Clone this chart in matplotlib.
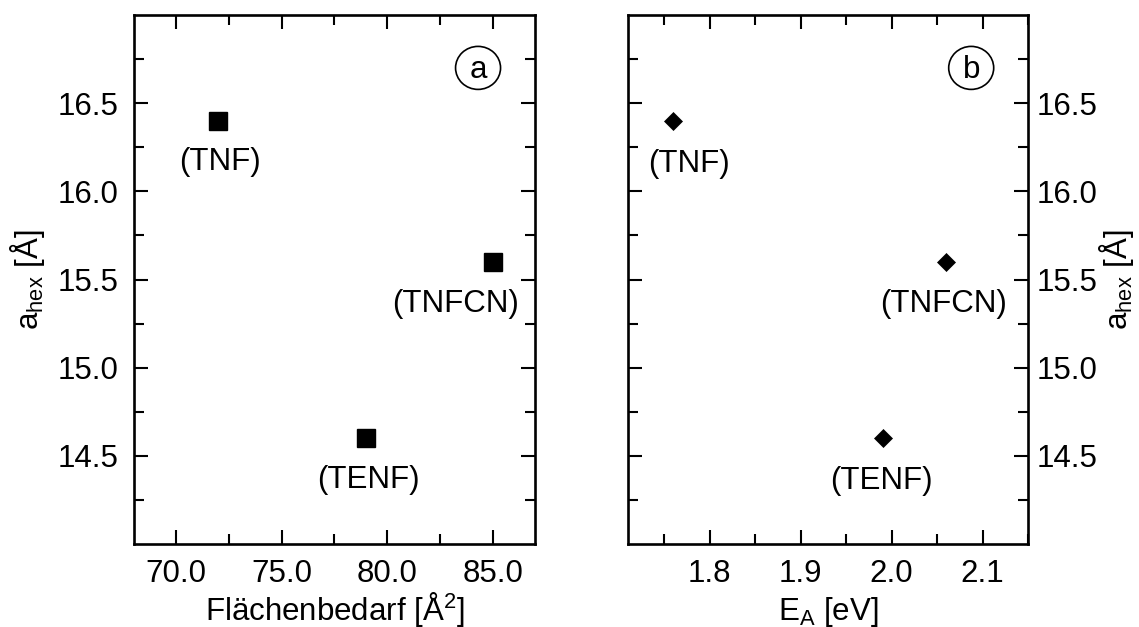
import matplotlib
matplotlib.use("Agg")
import matplotlib.pyplot as plt
from matplotlib.patches import Ellipse
from matplotlib.ticker import MultipleLocator, FormatStrFormatter

plt.rcParams['font.family'] = ['Liberation Sans', 'DejaVu Sans']
plt.rcParams['mathtext.fontset'] = 'custom'
plt.rcParams['mathtext.rm'] = 'Liberation Sans'
plt.rcParams['mathtext.it'] = 'Liberation Sans:italic'
plt.rcParams['mathtext.bf'] = 'Liberation Sans:bold'

# Acceptor compounds and their lattice constants
compounds = ["(TNF)", "(TENF)", "(TNFCN)"]
a_hex = [16.4, 14.6, 15.6]             # hexagonal lattice constant [Å]
area = [72.0, 79.0, 85.0]              # Flächenbedarf [Å²]
electron_affinity = [1.76, 1.99, 2.06]  # E_A [eV]

# label offsets (points) relative to each marker
offsets_a = [(1, -30), (2, -30), (-27, -30)]
offsets_b = [(11, -31), (-1, -31), (-2, -30)]

FS = 22.5
W, H = 1139, 627
fig = plt.figure(figsize=(W / 100, H / 100), dpi=100)

bottom = (H - 544) / H
height = (544 - 15) / H
ax1 = fig.add_axes([134 / W, bottom, (535 - 134) / W, height])
ax2 = fig.add_axes([628 / W, bottom, (1028 - 628) / W, height])


def style(ax, side):
    for sp in ax.spines.values():
        sp.set_linewidth(1.9)
    ax.tick_params(which='both', direction='in', top=True, bottom=True,
                   left=True, right=True, width=1.5, labelsize=FS)
    ax.tick_params(which='major', length=10)
    ax.tick_params(which='minor', length=7)
    ax.set_ylim(14.0, 17.0)
    ax.yaxis.set_major_formatter(FormatStrFormatter('%.1f'))
    ax.set_yticks([14.5, 15.0, 15.5, 16.0, 16.5])
    ax.set_yticks([14.25, 14.75, 15.25, 15.75, 16.25, 16.75], minor=True)
    if side == 'left':
        ax.tick_params(axis='y', labelleft=True, labelright=False, pad=11)
    else:
        ax.tick_params(axis='y', labelleft=False, labelright=True, pad=6)
    ax.tick_params(axis='x', pad=11)


style(ax1, 'left')
style(ax2, 'right')

# panel (a): lattice constant vs. area
ax1.plot(area, a_hex, linestyle='none', marker='s', markersize=13,
         color='black', markeredgewidth=1)
ax1.set_xlim(68, 87)
ax1.xaxis.set_major_locator(MultipleLocator(5))
ax1.xaxis.set_minor_locator(MultipleLocator(2.5))
ax1.xaxis.set_major_formatter(FormatStrFormatter('%.1f'))
for name, x, y, off in zip(compounds, area, a_hex, offsets_a):
    ax1.annotate(name, (x, y), xytext=off, textcoords='offset points',
                 ha='center', va='center', fontsize=FS)

# panel (b): lattice constant vs. electron affinity
ax2.plot(electron_affinity, a_hex, linestyle='none', marker='D',
         markersize=9, color='black', markeredgewidth=0.5)
ax2.set_xlim(1.71, 2.15)
ax2.xaxis.set_major_locator(MultipleLocator(0.1))
ax2.xaxis.set_minor_locator(MultipleLocator(0.05))
ax2.xaxis.set_major_formatter(FormatStrFormatter('%.1f'))
for name, x, y, off in zip(compounds, electron_affinity, a_hex, offsets_b):
    ax2.annotate(name, (x, y), xytext=off, textcoords='offset points',
                 ha='center', va='center', fontsize=FS)

# axis labels
ax1.set_xlabel('Flächenbedarf [Å$^{2}$]', fontsize=FS)
ax1.set_ylabel(r'a$_{\rm hex}$ [Å]', fontsize=FS)
ax2.set_xlabel(r'E$_{\rm A}$ [eV]', fontsize=FS)
ax2.yaxis.set_label_position('right')
ax2.set_ylabel(r'a$_{\rm hex}$ [Å]', fontsize=FS)

for ax in (ax1, ax2):
    ax.xaxis.label.set_verticalalignment('baseline')
    ax.yaxis.label.set_verticalalignment('baseline')
    ax.yaxis.label.set_rotation_mode('anchor')

ax1.xaxis.set_label_coords(0.5, -(620 - 544) / 529)
ax2.xaxis.set_label_coords(0.5, -(620 - 544) / 529)
ax1.yaxis.set_label_coords((38 - 134) / 401, 0.5)
ax2.yaxis.set_label_coords((1127 - 628) / 400, 0.5)

# circled panel letters
for ax, letter, npx in ((ax1, 'a', 401), (ax2, 'b', 400)):
    cx, cy = 0.858, 0.90
    ax.add_patch(Ellipse((cx, cy), 45 / npx, 43 / 529, transform=ax.transAxes,
                         fill=False, edgecolor='black', linewidth=1.2))
    ax.text(cx, cy - 0.004, letter, transform=ax.transAxes, ha='center',
            va='center', fontsize=FS)

fig.savefig('out.png', dpi=100)
